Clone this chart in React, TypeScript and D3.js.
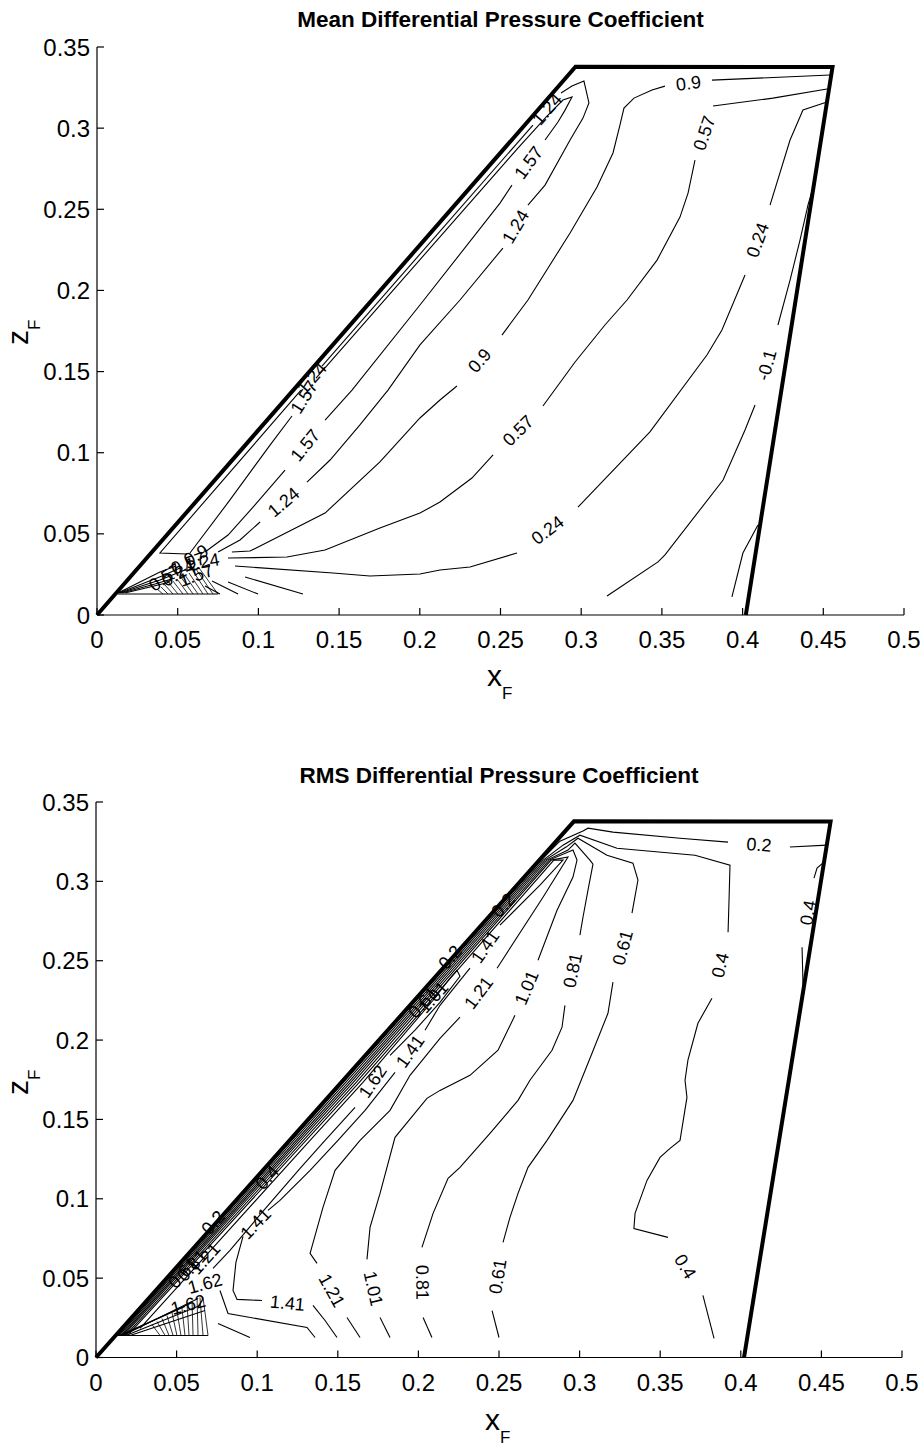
import React from "react";
import * as d3 from "d3";

type Pt = [number, number];
interface Contour { label: string; segs: Pt[][] }
interface FreeLabel { text: string; x: number; z: number; angle: number }

const FONT = "'Liberation Sans', Arial, Helvetica, sans-serif";

// ---------- axes ----------
const xTicks = [0, 0.05, 0.1, 0.15, 0.2, 0.25, 0.3, 0.35, 0.4, 0.45, 0.5];
const xTickText = ["0", "0.05", "0.1", "0.15", "0.2", "0.25", "0.3", "0.35", "0.4", "0.45", "0.5"];
const zTicks = [0, 0.05, 0.1, 0.15, 0.2, 0.25, 0.3, 0.35];
const zTickText = ["0", "0.05", "0.1", "0.15", "0.2", "0.25", "0.3", "0.35"];

// fin outline (leading edge, tip, trailing edge)
const finOutline: Pt[] = [[0, 0], [0.2965, 0.3378], [0.4557, 0.3377], [0.402, 0]];

// ---------- MEAN contours ----------
const mean124: Pt[][] = [
  [[0.0558, 0.0376], [0.039, 0.0382], [0.1264, 0.1386]],
  [[0.1394, 0.1534], [0.2701, 0.3019]],
  [[0.2875, 0.3216], [0.2943, 0.3259], [0.3017, 0.329], [0.3048, 0.3155], [0.3011, 0.3062], [0.2931, 0.2927], [0.2776, 0.2649], [0.267, 0.2526]],
  [[0.2515, 0.2261], [0.2249, 0.1941], [0.2001, 0.1664], [0.1803, 0.1386], [0.1629, 0.1171], [0.1444, 0.0955], [0.1301, 0.0819]],
  [[0.101, 0.0573], [0.0886, 0.0462], [0.075, 0.0388]],
];
const mean157: Pt[][] = [
  [[0.0576, 0.0382], [0.0824, 0.0709], [0.1072, 0.1047], [0.1208, 0.1226]],
  [[0.1357, 0.146], [0.2608, 0.2877], [0.2782, 0.3068], [0.2887, 0.3173], [0.2943, 0.3192], [0.29, 0.3111], [0.2856, 0.3038], [0.2776, 0.2927]],
  [[0.2571, 0.2649], [0.2497, 0.2538], [0.2001, 0.191], [0.158, 0.1386], [0.1413, 0.1201]],
  [[0.1165, 0.0893], [0.0979, 0.0678], [0.0812, 0.0493], [0.0669, 0.0388]],
];
const mean09: Pt[][] = [
  [[0.0836, 0.0388], [0.0948, 0.0394], [0.1413, 0.0628], [0.1753, 0.0943], [0.2001, 0.1214], [0.2125, 0.1325], [0.223, 0.1411]],
  [[0.2509, 0.1725], [0.267, 0.1941], [0.2931, 0.2354], [0.3098, 0.2637], [0.3197, 0.2847], [0.324, 0.3019], [0.3265, 0.3124], [0.3327, 0.3185], [0.3439, 0.3235], [0.3519, 0.3259]],
  [[0.381, 0.3296], [0.4542, 0.3327]],
];
const mean057: Pt[][] = [
  [[0.0812, 0.0351], [0.1177, 0.0357], [0.1413, 0.04], [0.1753, 0.0536], [0.2001, 0.0628], [0.2125, 0.0696], [0.2323, 0.0844], [0.2454, 0.0986]],
  [[0.2763, 0.1288], [0.2962, 0.1559], [0.3147, 0.1787], [0.3284, 0.1941], [0.347, 0.2187], [0.3612, 0.2452], [0.3662, 0.26], [0.3705, 0.2803]],
  [[0.3817, 0.3136], [0.4188, 0.3185], [0.4523, 0.3241]],
];
const mean024: Pt[][] = [
  [[0.0855, 0.0302], [0.1462, 0.0259], [0.1691, 0.024], [0.2001, 0.0253], [0.2125, 0.0277], [0.2311, 0.0296], [0.2602, 0.0382]],
  [[0.298, 0.0665], [0.3426, 0.1128], [0.3779, 0.1602], [0.3872, 0.1756], [0.4015, 0.2095]],
  [[0.417, 0.2526], [0.4294, 0.2927], [0.4374, 0.3112], [0.4523, 0.3161]],
];
const meanNeg01: Pt[][] = [
  [[0.316, 0.0117], [0.3476, 0.0327], [0.3519, 0.037], [0.3879, 0.0832], [0.4015, 0.114], [0.4077, 0.1294]],
  [[0.4219, 0.1787], [0.4294, 0.2064], [0.4356, 0.2311], [0.4405, 0.2526], [0.4436, 0.2631]],
];
const meanContours: Contour[] = [
  { label: "1.24", segs: mean124 },
  { label: "1.57", segs: mean157 },
  { label: "0.9", segs: mean09 },
  { label: "0.57", segs: mean057 },
  { label: "0.24", segs: mean024 },
  { label: "-0.1", segs: meanNeg01 },
];
const meanTrailing: Pt[] = [[0.3934, 0.0111], [0.4002, 0.0382], [0.4095, 0.0555]];
const meanGridBottom: Pt[] = [[0.013, 0.0129], [0.075, 0.0129]];
const meanWedges: Pt[][] = [
  [[0.013, 0.0136], [0.039, 0.0265], [0.0489, 0.0302]],
  [[0.0136, 0.0136], [0.0403, 0.024], [0.0514, 0.029]],
  [[0.0143, 0.0136], [0.039, 0.0216], [0.0545, 0.0277]],
  [[0.0155, 0.0136], [0.0359, 0.0191], [0.0483, 0.0228]],
  [[0.0173, 0.0136], [0.0328, 0.0173], [0.0452, 0.0203]],
];
const meanRadials: Pt[][] = [
  [[0.0669, 0.0179], [0.0762, 0.0129]],
  [[0.0713, 0.0209], [0.0874, 0.0129]],
  [[0.0812, 0.0203], [0.0998, 0.0129]],
  [[0.0917, 0.0234], [0.1276, 0.0129]],
];
const meanHatchTop: Pt[] = [[0.0372, 0.016], [0.0397, 0.0173], [0.0421, 0.0185], [0.0446, 0.0197], [0.0471, 0.0209], [0.0496, 0.0222], [0.052, 0.0234], [0.0545, 0.0246], [0.057, 0.0259], [0.0595, 0.0271], [0.0613, 0.0283], [0.0632, 0.029]];
const meanHatchBottom: Pt[] = [[0.0409, 0.0129], [0.044, 0.0129], [0.0471, 0.0129], [0.0502, 0.0129], [0.0533, 0.0129], [0.0564, 0.0129], [0.0595, 0.0129], [0.0626, 0.0129], [0.0657, 0.0129], [0.0688, 0.0129], [0.0719, 0.0129], [0.075, 0.0129]];
const meanFreeLabels: FreeLabel[] = [
  { text: "0.57", x: 0.0564, z: 0.032, angle: -20 },
  { text: "1.24", x: 0.0651, z: 0.0327, angle: -10 },
  { text: "0.9", x: 0.0613, z: 0.037, angle: -30 },
  { text: "0.24", x: 0.0502, z: 0.0259, angle: -30 },
  { text: "1.57", x: 0.0613, z: 0.0246, angle: -20 },
  { text: "0.57", x: 0.0421, z: 0.0234, angle: -35 },
];

// ---------- RMS contours ----------
const rms02: Pt[][] = [
  [[0.0134, 0.0139], [0.1534, 0.1734], [0.2761, 0.3134], [0.2878, 0.3253], [0.3021, 0.3317], [0.3052, 0.3335], [0.3207, 0.331], [0.3623, 0.3272], [0.3921, 0.3247]],
  [[0.4305, 0.3216], [0.4535, 0.3228]],
];
const rms04: Pt[][] = [
  [[0.0143, 0.0139], [0.1549, 0.1734], [0.2774, 0.3134], [0.2897, 0.3228], [0.3002, 0.3291], [0.3232, 0.3209], [0.3716, 0.3165], [0.3933, 0.3102], [0.3927, 0.2882], [0.3921, 0.268]],
  [[0.3821, 0.2264], [0.3734, 0.2106], [0.3672, 0.1873], [0.3654, 0.1747], [0.3666, 0.1639], [0.3623, 0.1368], [0.3561, 0.1318], [0.3499, 0.1261], [0.3418, 0.1116], [0.3344, 0.0908], [0.3337, 0.0813], [0.3548, 0.0757]],
  [[0.3765, 0.0391], [0.3834, 0.012]],
];
const rms04Trailing: Pt[][] = [
  [[0.4516, 0.3121], [0.4473, 0.3083], [0.4454, 0.302]],
  [[0.438, 0.2585], [0.4386, 0.2346]],
];
const rms061: Pt[][] = [
  [[0.0153, 0.0139], [0.1565, 0.1734], [0.2786, 0.3134], [0.2916, 0.3216], [0.299, 0.3272], [0.317, 0.3165], [0.3331, 0.3115], [0.3362, 0.3008], [0.3325, 0.28]],
  [[0.3207, 0.2365], [0.3176, 0.2169], [0.3077, 0.1917], [0.2959, 0.162], [0.2798, 0.1368], [0.268, 0.1198], [0.2618, 0.1034], [0.2568, 0.0883], [0.2525, 0.0725]],
  [[0.2457, 0.0296], [0.25, 0.0126]],
];
const rms081: Pt[][] = [
  [[0.0162, 0.0139], [0.158, 0.1734], [0.2798, 0.3134], [0.2928, 0.3197], [0.2971, 0.3241], [0.3064, 0.3134], [0.3083, 0.3108], [0.3052, 0.2945], [0.3021, 0.2774], [0.3002, 0.2661]],
  [[0.2909, 0.2219], [0.2891, 0.2081], [0.2829, 0.1936], [0.2692, 0.1747], [0.2618, 0.162], [0.2444, 0.1412], [0.2258, 0.1198], [0.2184, 0.1129], [0.2091, 0.0908], [0.2022, 0.0694]],
  [[0.2029, 0.0252], [0.2084, 0.0126]],
];
const rms101: Pt[][] = [
  [[0.0171, 0.0139], [0.1596, 0.1734], [0.2811, 0.3134], [0.2959, 0.3197], [0.2984, 0.3134], [0.2959, 0.3027], [0.286, 0.2818], [0.2742, 0.2503]],
  [[0.2599, 0.2156], [0.2494, 0.1936], [0.232, 0.1778], [0.2134, 0.1683], [0.2053, 0.1633], [0.1855, 0.1387], [0.1762, 0.1034], [0.17, 0.082], [0.1681, 0.0618]],
  [[0.1762, 0.0252], [0.1824, 0.0126]],
];
const rms121: Pt[][] = [
  [[0.0184, 0.0139], [0.1614, 0.1734], [0.2823, 0.3134], [0.2928, 0.3153], [0.2773, 0.29], [0.2488, 0.2453]],
  [[0.2258, 0.2144], [0.2134, 0.2011], [0.1948, 0.1778], [0.1824, 0.1557], [0.1638, 0.1368], [0.1483, 0.1179], [0.1408, 0.0946], [0.1328, 0.0656], [0.1371, 0.0593]],
  [[0.1557, 0.0252], [0.1638, 0.0126]],
];
const rms141: Pt[][] = [
  [[0.0196, 0.0139], [0.1633, 0.1734], [0.284, 0.3134], [0.2897, 0.3134], [0.2754, 0.2976], [0.2506, 0.2724]],
  [[0.232, 0.2453], [0.2134, 0.2219], [0.2041, 0.2062]],
  [[0.1855, 0.1797], [0.1669, 0.1557], [0.1501, 0.1368], [0.1328, 0.1179], [0.1141, 0.099], [0.1067, 0.0927]],
  [[0.0912, 0.0763], [0.0868, 0.0599], [0.085, 0.0422], [0.0875, 0.0366], [0.103, 0.0359]],
  [[0.1346, 0.0328], [0.1421, 0.0233], [0.1495, 0.0126]],
];
const rms162: Pt[][] = [
  [[0.0273, 0.0183], [0.1328, 0.1368], [0.1656, 0.1734], [0.2091, 0.2251], [0.2196, 0.239], [0.2239, 0.244], [0.2258, 0.2402], [0.2134, 0.2238], [0.1979, 0.2062], [0.1824, 0.1904]],
  [[0.1607, 0.1576], [0.1421, 0.1368], [0.1266, 0.1192], [0.103, 0.0914], [0.0831, 0.0675], [0.0726, 0.0561]],
];
const rmsContours: Contour[] = [
  { label: "0.2", segs: rms02 },
  { label: "0.4", segs: rms04 },
  { label: "0.4", segs: rms04Trailing },
  { label: "0.61", segs: rms061 },
  { label: "0.81", segs: rms081 },
  { label: "1.01", segs: rms101 },
  { label: "1.21", segs: rms121 },
  { label: "1.41", segs: rms141 },
  { label: "1.62", segs: rms162 },
];
const rmsFans: Pt[][] = [
  [[0.0769, 0.0422], [0.0819, 0.0277], [0.1309, 0.0189], [0.1359, 0.0126]],
  [[0.0757, 0.0214], [0.0955, 0.0126]],
];
const rmsGridBottom: Pt[] = [[0.013, 0.0139], [0.0695, 0.0139]];
const rmsWedges: Pt[][] = [
  [[0.0143, 0.0139], [0.0552, 0.0322]],
  [[0.0155, 0.0139], [0.0596, 0.0347]],
  [[0.0167, 0.0139], [0.0633, 0.0372]],
  [[0.0186, 0.0139], [0.0645, 0.0328]],
  [[0.0211, 0.0139], [0.0676, 0.0296]],
];
const rmsHatchTop: Pt[] = [[0.0347, 0.0208], [0.0378, 0.0227], [0.0409, 0.0246], [0.044, 0.0265], [0.0471, 0.0284], [0.0502, 0.0296], [0.0533, 0.0315], [0.0565, 0.0334], [0.0596, 0.0353], [0.0627, 0.0372], [0.0645, 0.0378], [0.0664, 0.0378]];
const rmsHatchBottom: Pt[] = [[0.0397, 0.0139], [0.0428, 0.0139], [0.0453, 0.0139], [0.0478, 0.0139], [0.0502, 0.0139], [0.0527, 0.0139], [0.0552, 0.0139], [0.0577, 0.0139], [0.0602, 0.0139], [0.0633, 0.0139], [0.0664, 0.0139], [0.0695, 0.0139]];
const rmsFreeLabels: FreeLabel[] = [
  { text: "0.2", x: 0.2525, z: 0.285, angle: -48 },
  { text: "0.2", x: 0.2196, z: 0.2522, angle: -48 },
  { text: "0.61", x: 0.2029, z: 0.2238, angle: -48 },
  { text: "1.01", x: 0.2091, z: 0.227, angle: -48 },
  { text: "0.4", x: 0.1061, z: 0.1135, angle: -48 },
  { text: "0.2", x: 0.0726, z: 0.0851, angle: -48 },
  { text: "0.61", x: 0.054, z: 0.0536, angle: -48 },
  { text: "0.81", x: 0.0596, z: 0.058, angle: -48 },
  { text: "1.21", x: 0.0676, z: 0.0624, angle: -48 },
  { text: "1.62", x: 0.0676, z: 0.0467, angle: -15 },
  { text: "1.62", x: 0.0571, z: 0.0334, angle: -15 },
];

interface Frame {
  left: number; right: number; bottom: number; top: number;
  titleY: number; xLabX: number; xLabY: number; zLabX: number; zLabY: number;
}

const meanFrame: Frame = { left: 97, right: 904, bottom: 615, top: 47, titleY: 27, xLabX: 487, xLabY: 686, zLabX: 28, zLabY: 345 };
const rmsFrame: Frame = { left: 96, right: 902, bottom: 1357.5, top: 802, titleY: 783, xLabX: 485, xLabY: 1430, zLabX: 28, zLabY: 1095 };

function Panel(props: {
  frame: Frame; title: string; contours: Contour[]; extras: Pt[][];
  hatchTop: Pt[]; hatchBottom: Pt[]; freeLabels: FreeLabel[];
}) {
  const { frame, title, contours, extras, hatchTop, hatchBottom, freeLabels } = props;
  const sx = d3.scaleLinear().domain([0, 0.5]).range([frame.left, frame.right]);
  const sy = d3.scaleLinear().domain([0, 0.35]).range([frame.bottom, frame.top]);
  const line = d3.line<Pt>().x((d) => sx(d[0])).y((d) => sy(d[1]));

  const autoLabels: { text: string; x: number; y: number; angle: number }[] = [];
  contours.forEach((c) => {
    for (let i = 0; i < c.segs.length - 1; i++) {
      const a = c.segs[i][c.segs[i].length - 1];
      const b = c.segs[i + 1][0];
      const ax = sx(a[0]), ay = sy(a[1]), bx = sx(b[0]), by = sy(b[1]);
      let ang = (Math.atan2(by - ay, bx - ax) * 180) / Math.PI;
      if (ang > 90) ang -= 180;
      if (ang < -90) ang += 180;
      autoLabels.push({ text: c.label, x: (ax + bx) / 2, y: (ay + by) / 2, angle: ang });
    }
  });

  const hatch: Pt[][] = hatchTop.map((p, i) => [p, hatchBottom[i]]);
  const y0 = sy(0);
  const x0 = sx(0);

  return (
    <g>
      <text x={(frame.left + frame.right) / 2} y={frame.titleY} textAnchor="middle"
        fontFamily={FONT} fontWeight="bold" fontSize={22.5} fill="#000">{title}</text>

      {/* contour lines */}
      <g fill="none" stroke="#000" strokeWidth={1.1}>
        {contours.map((c, ci) => c.segs.map((s, si) => <path key={`c${ci}-${si}`} d={line(s) || ""} />))}
        {extras.map((s, i) => <path key={`e${i}`} d={line(s) || ""} />)}
        {hatch.map((s, i) => <path key={`h${i}`} d={line(s) || ""} strokeWidth={0.8} />)}
      </g>

      {/* fin outline */}
      <path d={line(finOutline) || ""} fill="none" stroke="#000" strokeWidth={4} strokeLinejoin="miter" />

      {/* contour labels */}
      <g fontFamily={FONT} fontSize={18} fill="#000" textAnchor="middle">
        {autoLabels.map((l, i) => (
          <text key={`a${i}`} transform={`translate(${l.x},${l.y}) rotate(${l.angle})`} dy="0.35em">{l.text}</text>
        ))}
        {freeLabels.map((l, i) => (
          <text key={`f${i}`} transform={`translate(${sx(l.x)},${sy(l.z)}) rotate(${l.angle})`} dy="0.35em">{l.text}</text>
        ))}
      </g>

      {/* axes */}
      <g stroke="#000" strokeWidth={1.2} fill="none">
        <line x1={x0} x2={x0} y1={y0} y2={sy(0.35)} />
        <line x1={x0} x2={sx(0.5)} y1={y0} y2={y0} />
        {zTicks.map((t, i) => <line key={`zt${i}`} x1={x0} x2={x0 + 7} y1={sy(t)} y2={sy(t)} />)}
        {xTicks.map((t, i) => <line key={`xt${i}`} x1={sx(t)} x2={sx(t)} y1={y0} y2={y0 - 7} />)}
      </g>
      <g fontFamily={FONT} fontSize={24} fill="#000">
        {zTicks.map((t, i) => (
          <text key={`zl${i}`} x={x0 - 7} y={sy(t)} dy="0.36em" textAnchor="end">{zTickText[i]}</text>
        ))}
        {xTicks.map((t, i) => (
          <text key={`xl${i}`} x={sx(t)} y={y0 + 33} textAnchor="middle">{xTickText[i]}</text>
        ))}
      </g>

      {/* axis titles */}
      <text x={frame.xLabX} y={frame.xLabY} fontFamily={FONT} fontSize={30} fill="#000">
        x<tspan fontSize={17} dy={13}>F</tspan>
      </text>
      <text transform={`translate(${frame.zLabX},${frame.zLabY}) rotate(-90)`} fontFamily={FONT} fontSize={30} fill="#000">
        z<tspan fontSize={17} dy={12}>F</tspan>
      </text>
    </g>
  );
}

export default function App() {
  return (
    <svg width={924} height={1446} viewBox="0 0 924 1446"
      style={{ position: "absolute", left: 0, top: 0, background: "#fff" }}>
      <rect x={0} y={0} width={924} height={1446} fill="#fff" />
      <Panel frame={meanFrame} title="Mean Differential Pressure Coefficient"
        contours={meanContours}
        extras={[meanTrailing, meanGridBottom, ...meanWedges, ...meanRadials]}
        hatchTop={meanHatchTop} hatchBottom={meanHatchBottom}
        freeLabels={meanFreeLabels} />
      <Panel frame={rmsFrame} title="RMS Differential Pressure Coefficient"
        contours={rmsContours}
        extras={[...rmsFans, rmsGridBottom, ...rmsWedges]}
        hatchTop={rmsHatchTop} hatchBottom={rmsHatchBottom}
        freeLabels={rmsFreeLabels} />
    </svg>
  );
}
